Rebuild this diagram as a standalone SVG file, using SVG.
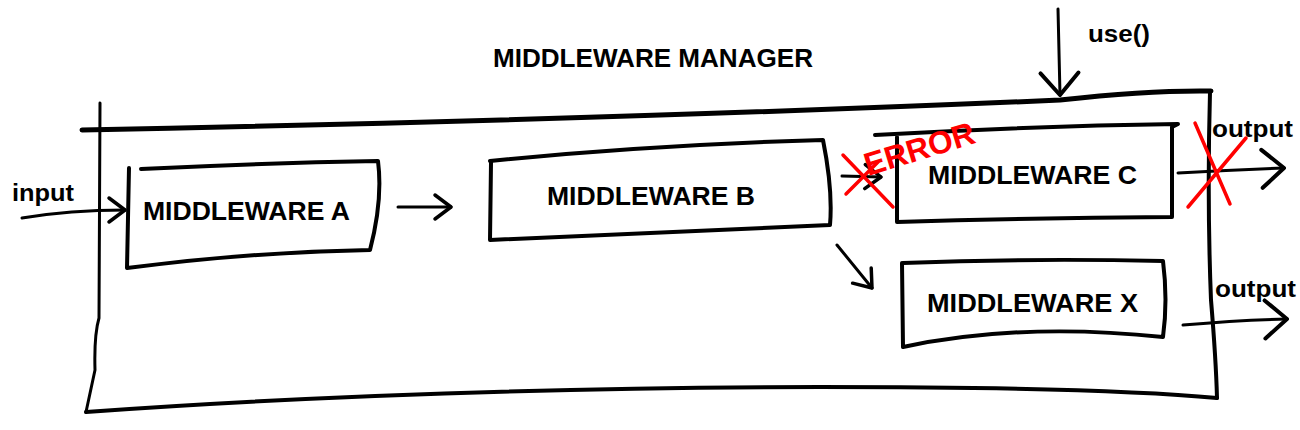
<svg xmlns="http://www.w3.org/2000/svg" width="1300" height="430" viewBox="0 0 1300 430">
<style>
.ln{fill:none;stroke:#000;stroke-width:4;stroke-linecap:round;stroke-linejoin:round}
.cn{fill:none;stroke:#000;stroke-width:3;stroke-linecap:round;stroke-linejoin:round}
.red{fill:none;stroke:#f00;stroke-width:3.5;stroke-linecap:round}
.t{font-family:"Liberation Sans",Arial,sans-serif;font-weight:bold;fill:#000}
.big{font-size:25px}
.sm{font-size:23px}
</style>
<defs>
<marker id="ah" viewBox="0 0 22 30" refX="19" refY="15" markerWidth="22" markerHeight="30" markerUnits="userSpaceOnUse" orient="auto">
<path d="M3,3 L19,15 L3,27" fill="none" stroke="#000" stroke-width="3.5" stroke-linecap="round" stroke-linejoin="round"/>
</marker>
<marker id="ahL" viewBox="0 0 30 46" refX="26" refY="23" markerWidth="30" markerHeight="46" markerUnits="userSpaceOnUse" orient="auto">
<path d="M4,4 L26,23 L4,42" fill="none" stroke="#000" stroke-width="4" stroke-linecap="round" stroke-linejoin="round"/>
</marker>
</defs>
<rect width="1300" height="430" fill="#fff"/>

<g id="manager">
<path class="ln" style="stroke-width:5" d="M82,130 Q600,120 1060,100 Q1150,90 1211,91"/>
<path class="ln" d="M1210,92 Q1207,200 1211,300 Q1216,360 1217,398"/>
<path class="ln" d="M86,412 Q420,388 820,387 Q1100,387 1217,398"/>
<path class="ln" style="stroke-width:3" d="M100,103 L99,318 Q94,335 95,370 L86,412"/>
<text class="t" x="653" y="67" text-anchor="middle" style="font-size:26px" textLength="320" lengthAdjust="spacingAndGlyphs">MIDDLEWARE MANAGER</text>
</g>

<g id="middleware-a">
<path class="ln" d="M141,169 Q260,163 378,161 Q383,200 370,250 Q250,252 127,268 L129,168"/>
<text class="t big" x="143" y="220" textLength="207" lengthAdjust="spacingAndGlyphs">MIDDLEWARE A</text>
</g>

<g id="middleware-b">
<path class="ln" d="M490,161 Q650,145 823,140 Q833,190 830,225 Q660,232 490,240 L491,163"/>
<text class="t big" x="547" y="205" textLength="208" lengthAdjust="spacingAndGlyphs">MIDDLEWARE B</text>
</g>

<g id="middleware-c">
<path class="ln" d="M875,135 Q1030,126 1178,124 L1172,127 L1172,217 Q1030,218 897,222 L897,137"/>
<text class="t big" x="928" y="184" textLength="209" lengthAdjust="spacingAndGlyphs">MIDDLEWARE C</text>
</g>

<g id="middleware-x">
<path class="ln" d="M903,263 Q1030,258 1163,261 Q1168,300 1163,337 Q1020,322 903,347 L902,263"/>
<text class="t big" x="927" y="312" textLength="211" lengthAdjust="spacingAndGlyphs">MIDDLEWARE X</text>
</g>

<g id="connectors">
<path class="cn" d="M22,218 Q70,210 125,210" marker-end="url(#ah)"/>
<path class="cn" d="M398,207 L451,207" marker-end="url(#ah)"/>
<path class="cn" d="M842,176 L881,177" marker-end="url(#ah)"/>
<path class="cn" d="M837,245 L872,288" marker-end="url(#ah)"/>
<path class="cn" d="M1178,173 Q1230,170 1284,168" marker-end="url(#ahL)"/>
<path class="cn" d="M1183,325 Q1240,320 1287,319" marker-end="url(#ahL)"/>
<path class="cn" d="M1058,9 L1060,95" marker-end="url(#ahL)"/>
</g>

<g id="labels">
<text class="t sm" x="12" y="201" textLength="62" lengthAdjust="spacingAndGlyphs">input</text>
<text class="t sm" x="1212" y="137" textLength="81" lengthAdjust="spacingAndGlyphs">output</text>
<text class="t sm" x="1215" y="297" textLength="81" lengthAdjust="spacingAndGlyphs">output</text>
<text class="t sm" x="1088" y="42" textLength="62" lengthAdjust="spacingAndGlyphs">use()</text>
</g>

<g id="error">
<text x="868" y="176" transform="rotate(-17 868 176)" style="font-family:'Liberation Sans',Arial,sans-serif;font-weight:bold;font-size:32px;fill:#f00" textLength="114" lengthAdjust="spacingAndGlyphs">ERROR</text>
<path class="red" d="M843,155 L893,207 M846,194 L878,162"/>
<path class="red" d="M1195,123 L1230,204 M1188,207 L1246,138"/>
</g>
</svg>
